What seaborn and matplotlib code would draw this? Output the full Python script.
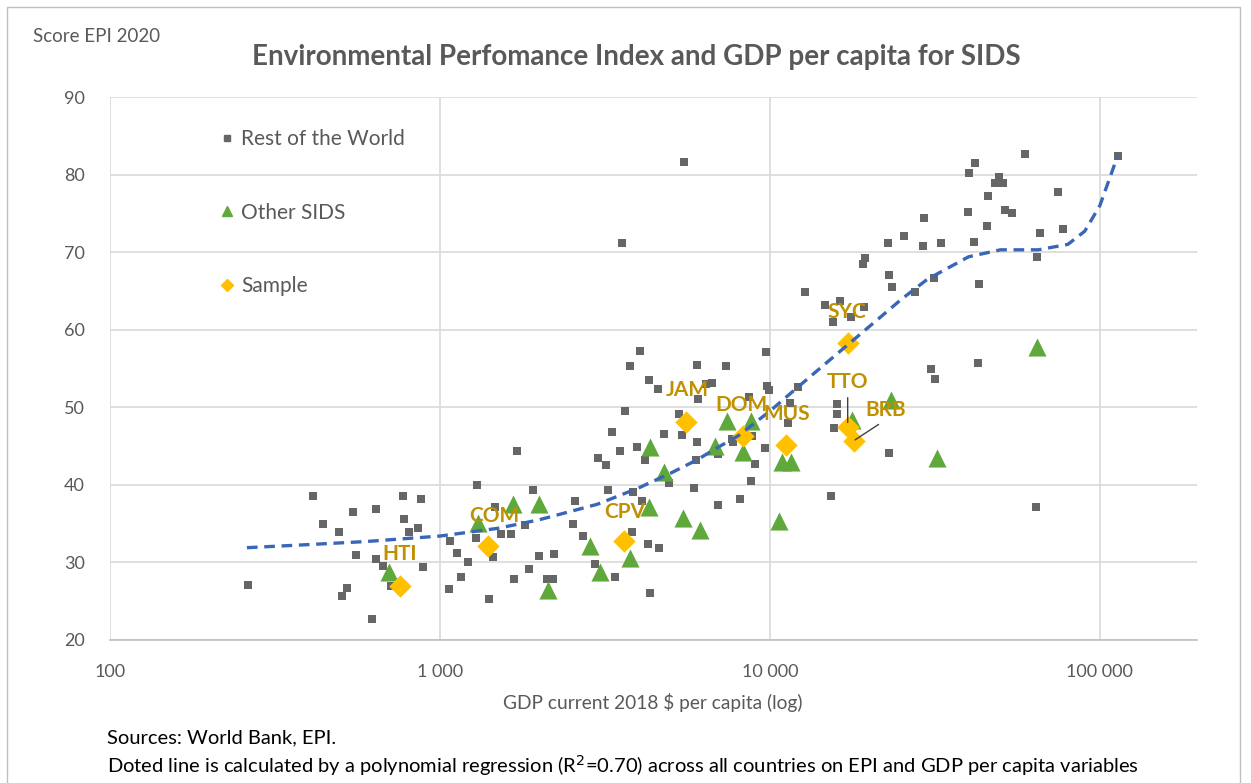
import numpy as np
import pandas as pd
import matplotlib
matplotlib.use('Agg')
import matplotlib.pyplot as plt
import seaborn as sns
from matplotlib.lines import Line2D
from matplotlib.patches import Rectangle

# Rest of the world (GDP per capita, EPI score)
world_gdp = [262, 412, 545, 442, 494, 640, 773, 875, 778, 857, 805, 556, 640, 671, 887, 522, 505, 622, 711,
             1072, 1127, 1216, 1159, 1064, 1296, 4036, 3767, 6010, 4295, 4582, 3641, 5297, 6053, 3321, 4779,
             5409, 6010, 1710, 3508, 3953, 3013, 3187, 4178, 5970, 4943, 5890, 1914, 2564, 3228, 3848, 4093,
             1469, 1812, 2529, 1285, 1531, 1641, 2711, 3820, 1449, 1995, 2213, 4266, 4613, 1862, 1675, 2109,
             2198, 2951, 3388, 1406, 4325, 9727, 7362, 6397, 6670, 8629, 9790, 9930, 12160, 11500, 7680, 7730,
             8810, 6950, 9010, 9660, 11350, 8750, 6950, 8110, 15960, 15960, 15630, 15310, 22950, 30760, 31620,
             59290, 113400, 41790, 40090, 49430, 48060, 50810, 74640, 45810, 39810, 51530, 54090, 29310, 45500,
             25490, 22780, 29100, 32970, 41500, 65800, 77270, 64420, 19410, 19140, 12760, 22960, 23440, 31420,
             27470, 42960, 14690, 16310, 19280, 15530, 17580, 42660, 63970, 5480, 3564]
world_epi = [27.1, 38.5, 36.5, 35.0, 33.9, 36.9, 38.5, 38.2, 35.6, 34.5, 33.9, 31.0, 30.5, 29.6, 29.4, 26.7, 25.7, 22.7, 26.9,
             32.8, 31.2, 30.1, 28.1, 26.6, 40.0, 57.3, 55.3, 55.5, 53.5, 52.4, 49.5, 49.1, 51.1, 46.8, 46.6,
             46.4, 45.5, 44.4, 44.4, 44.9, 43.4, 42.5, 43.2, 43.2, 40.3, 39.6, 39.4, 37.9, 39.4, 39.1, 37.9,
             37.2, 34.8, 35.0, 33.2, 33.7, 33.7, 33.4, 33.9, 30.7, 30.8, 31.1, 32.4, 31.9, 29.2, 27.9, 27.8,
             27.8, 29.8, 28.1, 25.3, 26.0, 57.1, 55.3, 53.0, 53.1, 51.3, 52.8, 52.2, 52.6, 50.6, 45.9, 45.5,
             46.3, 44.0, 42.7, 44.8, 48.0, 40.5, 37.4, 38.2, 50.4, 49.1, 47.3, 38.6, 44.1, 54.9, 53.7,
             82.7, 82.4, 81.5, 80.2, 79.7, 78.9, 78.9, 77.8, 77.2, 75.2, 75.4, 75.0, 74.4, 73.4,
             72.1, 71.2, 70.8, 71.2, 71.3, 72.5, 73.0, 69.4, 69.3, 68.5, 64.9, 67.1, 65.5, 66.7,
             64.9, 65.9, 63.2, 63.7, 62.9, 61.0, 61.6, 55.7, 37.2, 81.6, 71.2]

# Other SIDS
sids_gdp = [699, 4325, 4779, 1303, 1663, 1995, 4295, 5445, 6137, 2851, 3767, 3055, 2123, 7410, 8750,
            6810, 8280, 10870, 11590, 23280, 17700, 10640, 32060, 64420]
sids_epi = [28.8, 44.9, 41.7, 35.1, 37.5, 37.5, 37.2, 35.7, 34.2, 32.1, 30.6, 28.8, 26.5, 48.2, 48.2,
            45.0, 44.3, 43.0, 43.0, 51.0, 48.4, 35.4, 43.5, 57.8]

# Sample countries
sample_code = ['HTI', 'COM', 'CPV', 'JAM', 'DOM', 'MUS', 'TTO', 'BRB', 'SYC']
sample_gdp = [757, 1397, 3614, 5559, 8279, 11170, 17210, 17970, 17210]
sample_epi = [26.9, 32.1, 32.8, 48.1, 46.3, 45.2, 47.5, 45.7, 58.3]

# Polynomial trend line
trend_gdp = [260, 400, 600, 1000, 1500, 2000, 3000, 4000, 5000, 6000, 7000, 8000, 10000, 12000,
             15000, 20000, 25000, 30000, 40000, 50000, 65000, 80000, 90000, 100000, 113000]
trend_epi = [31.9, 32.3, 32.7, 33.4, 34.4, 35.5, 37.5, 39.6, 41.5, 43.2, 44.9, 46.3, 49.5, 52.4,
             55.9, 60.4, 63.9, 66.5, 69.4, 70.3, 70.3, 71.0, 72.7, 76.0, 82.3]

x_ticks = [100, 1000, 10000, 100000]
x_tick_labels = ['100', '1 000', '10 000', '100 000']
y_ticks = [20, 30, 40, 50, 60, 70, 80, 90]

world = pd.DataFrame({'gdp': world_gdp, 'epi': world_epi})
sids = pd.DataFrame({'gdp': sids_gdp, 'epi': sids_epi})
sample = pd.DataFrame({'code': sample_code, 'gdp': sample_gdp, 'epi': sample_epi})
trend = pd.DataFrame({'gdp': trend_gdp, 'epi': trend_epi})

sns.set_style('white')
plt.rcParams['font.family'] = ['Lato', 'DejaVu Sans']
txt = '#595959'

W, H = 1251, 783
fig = plt.figure(figsize=(W / 100, H / 100), dpi=100)
ax = fig.add_axes([110 / W, 1 - 640 / H, (1197 - 110) / W, (640 - 97) / H])

sns.scatterplot(data=world, x='gdp', y='epi', ax=ax, marker='s', s=30, color='#666666', linewidth=0, zorder=3)
sns.scatterplot(data=sids, x='gdp', y='epi', ax=ax, marker='^', s=170, color='#5fa83b', linewidth=0, zorder=4)
sns.scatterplot(data=sample, x='gdp', y='epi', ax=ax, marker='D', s=130, color='#FFC000', linewidth=0, zorder=5)
sns.lineplot(data=trend, x='gdp', y='epi', ax=ax, color='#3a66b8', lw=2.4, linestyle=(0, (3.2, 2.0)), zorder=6)

ax.set_xscale('log')
ax.set_xlim(100, 197000)
ax.set_ylim(20, 90)
ax.set_xticks(x_ticks)
ax.set_xticklabels(x_tick_labels)
ax.set_yticks(y_ticks)
ax.xaxis.set_minor_locator(matplotlib.ticker.NullLocator())
ax.tick_params(axis='both', length=0, labelsize=13, labelcolor=txt)
ax.tick_params(axis='x', pad=17)
ax.tick_params(axis='y', pad=18)
ax.grid(True, color='#d9d9d9', lw=1.2)
ax.set_axisbelow(True)
for s in ['top', 'right', 'left']:
    ax.spines[s].set_visible(False)
ax.spines['bottom'].set_color('#bfbfbf')
ax.spines['bottom'].set_linewidth(1.2)
ax.set_xlabel('')
ax.set_ylabel('')

# country labels
offsets = {'HTI': (0, 32), 'COM': (6, 30), 'CPV': (1, 29), 'JAM': (2, 32), 'DOM': (-1, 31),
           'MUS': (1, 31), 'TTO': (0, 45), 'BRB': (32, 31), 'SYC': (-1, 31)}
for _, r in sample.iterrows():
    dx, dy = offsets[r['code']]
    kw = {}
    if r['code'] == 'TTO':
        kw['arrowprops'] = dict(arrowstyle='-', color='#404040', lw=1, shrinkA=2, shrinkB=3)
    if r['code'] == 'BRB':
        kw['arrowprops'] = dict(arrowstyle='-', color='#404040', lw=1, shrinkA=2, shrinkB=1, relpos=(0.5, 0))
    ax.annotate(r['code'], (r['gdp'], r['epi']), xytext=(dx, dy), textcoords='offset pixels',
                ha='center', va='center', color='#BF9000', fontsize=15, fontweight='bold', zorder=7, **kw)

# legend
handles = [Line2D([], [], marker='s', ls='', color='#666666', markersize=5),
           Line2D([], [], marker='^', ls='', color='#5fa83b', markersize=7),
           Line2D([], [], marker='D', ls='', color='#FFC000', markersize=6)]
leg = ax.legend(handles, ['Rest of the World', 'Other SIDS', 'Sample'], loc='upper left',
                bbox_to_anchor=(0.084, 0.975), frameon=False, fontsize=15, labelspacing=2.56,
                handlelength=0.7, handletextpad=0.3, labelcolor=txt)

fig.text(636 / W, 1 - 57 / H, 'Environmental Perfomance Index and GDP per capita for SIDS',
         ha='center', va='center', fontsize=20, fontweight='bold', color=txt)
fig.text(33 / W, 1 - 37 / H, 'Score EPI 2020', ha='left', va='center', fontsize=13.5, color=txt)
fig.text(653 / W, 1 - 702 / H, 'GDP current 2018 $ per capita (log)', ha='center', va='center',
         fontsize=13.8, color=txt)
fig.text(107 / W, 1 - 738 / H, 'Sources: World Bank, EPI.', ha='left', va='center', fontsize=14.5, color='black')
fig.text(107 / W, 1 - 766 / H,
         'Doted line is calculated by a polynomial regression (R$^2$=0.70) across all countries on EPI and GDP per capita variables',
         ha='left', va='center', fontsize=14.5, color='black')

fig.patches.append(Rectangle((7 / W, -0.02), (1240 - 7) / W, (H - 7) / H + 0.02, transform=fig.transFigure,
                             fill=False, ec='#bfbfbf', lw=1))

fig.savefig('out.png', dpi=100)
